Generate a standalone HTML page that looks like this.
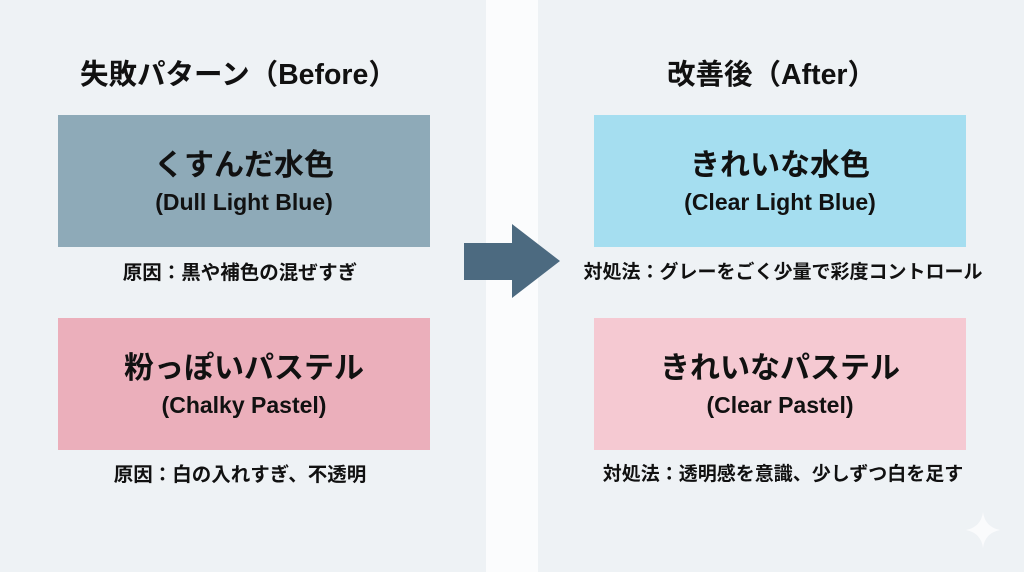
<!DOCTYPE html>
<html><head><meta charset="utf-8"><style>
*{margin:0;padding:0;box-sizing:border-box}
body{width:1024px;height:572px;position:relative;overflow:hidden;background:#eef2f5;font-family:"Liberation Sans","Noto Sans CJK JP",sans-serif;color:#111}
.band{position:absolute;left:486px;top:0;width:52px;height:572px;background:#fbfcfd}
.t{position:absolute;font-size:28.5px;font-weight:bold;white-space:nowrap;top:52px}
.box{position:absolute;width:372px;height:132px;text-align:center}
.box .j{font-size:30px;font-weight:bold;margin-top:31px;line-height:40px}
.box .e{font-size:23px;font-weight:bold;line-height:30px;margin-top:1px}
.c{position:absolute;width:480px;text-align:center;font-size:19.5px;font-weight:bold;line-height:24px;white-space:nowrap}
</style></head><body>
<div class="band"></div>
<div class="t" style="left:80px">失敗パターン（Before）</div>
<div class="t" style="left:667px">改善後（After）</div>
<div class="box" style="left:58px;top:115px;background:#8eaab8"><div class="j">くすんだ水色</div><div class="e">(Dull Light Blue)</div></div>
<div class="box" style="left:58px;top:318px;background:#ebafbb"><div class="j">粉っぽいパステル</div><div class="e">(Chalky Pastel)</div></div>
<div class="box" style="left:594px;top:115px;background:#a5def0"><div class="j">きれいな水色</div><div class="e">(Clear Light Blue)</div></div>
<div class="box" style="left:594px;top:318px;background:#f5c9d2"><div class="j">きれいなパステル</div><div class="e">(Clear Pastel)</div></div>
<div class="c" style="left:0px;top:261px">原因：黒や補色の混ぜすぎ</div>
<div class="c" style="left:0px;top:463px">原因：白の入れすぎ、不透明</div>
<div class="c" style="left:543px;top:261px;font-size:19px">対処法：グレーをごく少量で彩度コントロール</div>
<div class="c" style="left:543px;top:463px;font-size:19px">対処法：透明感を意識、少しずつ白を足す</div>
<svg style="position:absolute;left:0;top:0" width="1024" height="572">
<polygon points="464,243 512,243 512,224 560,261 512,298 512,280 464,280" fill="#4c6a80"/>
<path d="M983,512 Q985,527 1000,530 Q985,533 983,548 Q981,533 966,530 Q981,527 983,512Z" fill="#fafbfc"/>
</svg>
</body></html>
